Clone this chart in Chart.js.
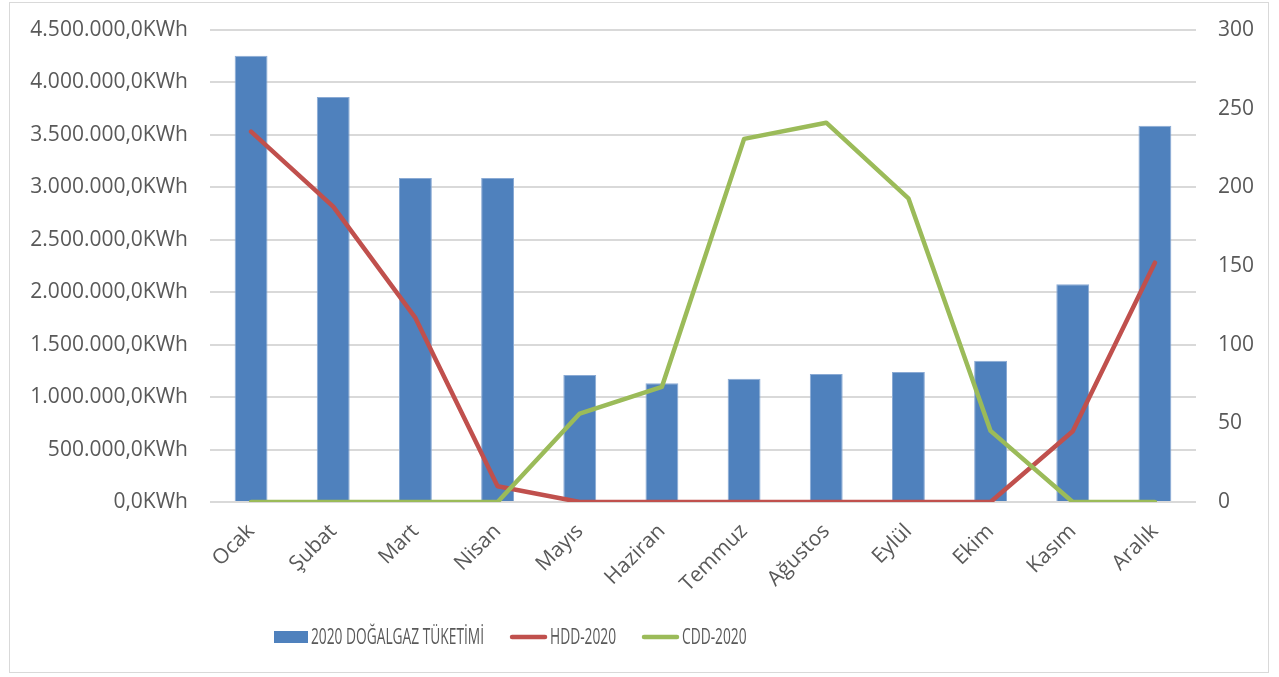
<!DOCTYPE html>
<html>
<head>
<meta charset="utf-8">
<script src="https://cdn.jsdelivr.net/npm/chart.js@4/dist/chart.umd.min.js"></script>
<style>
  html, body { margin: 0; padding: 0; background: #fff; }
  #frame {
    position: absolute; left: 9px; top: 2px; width: 1260px; height: 671px;
    border: 1px solid #d9d9d9; box-sizing: border-box;
  }
  #wrap { position: absolute; left: 0; top: 0; width: 1279px; height: 677px; }
</style>
</head>
<body>
<div id="frame"></div>
<div id="wrap"><canvas id="c" width="1279" height="677"></canvas></div>
<script>
// Monthly natural gas use (kWh) with heating and cooling degree-days, 2020
const months = ['Ocak', 'Şubat', 'Mart', 'Nisan', 'Mayıs', 'Haziran', 'Temmuz', 'Ağustos', 'Eylül', 'Ekim', 'Kasım', 'Aralık'];
const gasUse2020 = [4254000, 3862000, 3089000, 3089000, 1211000, 1131000, 1175000, 1220000, 1239000, 1347000, 2075000, 3586000];
const hdd2020 = [235.4, 187.7, 117, 10, 0, 0, 0, 0, 0, 0, 45, 152.1];
const cdd2020 = [0, 0, 0, 0, 56.2, 73.2, 230.8, 241.1, 193, 45.2, 0, 0];
const seriesNames = ['2020 DOĞALGAZ TÜKETİMİ', 'HDD-2020', 'CDD-2020'];

const textColor = '#595959';
const gridColor = '#d9d9d9';
const tickFont = { family: "'Open Sans', 'Noto Sans', sans-serif", size: 21 };

function kwhLabel(v) {
  const s = Math.round(v).toString().replace(/\B(?=(\d{3})+(?!\d))/g, '.');
  return s + ',0KWh';
}

// Legend drawn below the plot with narrow (horizontally condensed) lettering
const narrowLegend = {
  id: 'narrowLegend',
  afterDraw(chart, args, opts) {
    const ctx = chart.ctx;
    const y = opts.y;
    let x = opts.x;
    ctx.save();
    ctx.font = opts.fontSize + 'px ' + opts.fontFamily;
    ctx.textBaseline = 'middle';
    chart.data.datasets.forEach((ds) => {
      if (ds.type === 'bar') {
        ctx.fillStyle = ds.backgroundColor;
        ctx.fillRect(x, y - opts.boxHeight / 2, opts.boxWidth, opts.boxHeight);
        x += opts.boxWidth;
      } else {
        ctx.strokeStyle = ds.borderColor;
        ctx.lineWidth = ds.borderWidth;
        ctx.lineCap = 'round';
        ctx.beginPath();
        ctx.moveTo(x + 2, y);
        ctx.lineTo(x + opts.lineLength - 2, y);
        ctx.stroke();
        x += opts.lineLength;
      }
      x += opts.markerGap;
      const w = ctx.measureText(ds.label).width * opts.squeeze;
      ctx.save();
      ctx.translate(x, y);
      ctx.scale(opts.squeeze, 1);
      ctx.fillStyle = textColor;
      ctx.fillText(ds.label, 0, 1);
      ctx.restore();
      x += w + opts.itemGap;
    });
    ctx.restore();
  }
};

// Value axes: fixed width, no extra vertical padding beyond the layout's
function fixAxis(width) {
  return function (scale) {
    scale.width = width;
    scale.paddingTop = 0;
    scale.paddingBottom = 0;
  };
}

new Chart(document.getElementById('c'), {
  data: {
    labels: months,
    datasets: [
      {
        type: 'bar', label: seriesNames[0], data: gasUse2020, yAxisID: 'y',
        backgroundColor: '#4f81bd', borderColor: '#8aaad4', borderWidth: 1,
        barPercentage: 0.4, categoryPercentage: 1, order: 3
      },
      {
        type: 'line', label: seriesNames[1], data: hdd2020, yAxisID: 'y1',
        borderColor: '#c0504d', backgroundColor: '#c0504d', borderWidth: 4.5,
        pointRadius: 0, borderCapStyle: 'round', borderJoinStyle: 'round', order: 2
      },
      {
        type: 'line', label: seriesNames[2], data: cdd2020, yAxisID: 'y1',
        borderColor: '#9bbb59', backgroundColor: '#9bbb59', borderWidth: 4.5,
        pointRadius: 0, borderCapStyle: 'round', borderJoinStyle: 'round', order: 1
      }
    ]
  },
  plugins: [narrowLegend],
  options: {
    responsive: false,
    animation: false,
    layout: { padding: { top: 30, left: 0, right: 0, bottom: 79 } },
    plugins: {
      tooltip: { enabled: false },
      legend: { display: false },
      narrowLegend: {
        x: 274, y: 637,
        boxWidth: 34, boxHeight: 12, lineLength: 37,
        markerGap: 3, itemGap: 26,
        fontSize: 21, fontFamily: "'Open Sans', sans-serif",
        squeeze: 0.655
      }
    },
    scales: {
      x: {
        offset: true,
        grid: { display: false, drawTicks: false },
        border: { display: false },
        ticks: { color: textColor, font: tickFont, maxRotation: 45, minRotation: 45, padding: 17 },
        afterFit(scale) { scale.height = 96; }
      },
      y: {
        position: 'left',
        min: 0, max: 4500000,
        grid: { color: gridColor, lineWidth: 2, drawTicks: false },
        border: { display: false },
        ticks: { stepSize: 500000, color: textColor, font: tickFont, padding: 22, callback: kwhLabel },
        afterFit: fixAxis(210)
      },
      y1: {
        position: 'right',
        min: 0, max: 300,
        grid: { display: false, drawTicks: false },
        border: { display: false },
        ticks: { stepSize: 50, color: textColor, font: tickFont, padding: 22 },
        afterFit: fixAxis(83)
      }
    }
  }
});
</script>
</body>
</html>
